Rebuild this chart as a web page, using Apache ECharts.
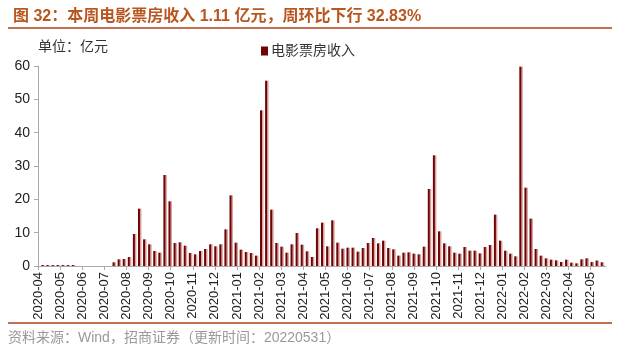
<!DOCTYPE html>
<html>
<head>
<meta charset="utf-8">
<script src="https://cdn.jsdelivr.net/npm/echarts@6/dist/echarts.min.js"></script>
<style>
  html, body { margin: 0; padding: 0; background: #fff; }
  #chart { width: 617px; height: 352px; }
</style>
</head>
<body>
<div id="chart"></div>
<script>
// month tick labels (x axis)
var monthLabels = [
  '2020-04', '2020-05', '2020-06', '2020-07', '2020-08', '2020-09', '2020-10',
  '2020-11', '2020-12', '2021-01', '2021-02', '2021-03', '2021-04', '2021-05',
  '2021-06', '2021-07', '2021-08', '2021-09', '2021-10', '2021-11', '2021-12',
  '2022-01', '2022-02', '2022-03', '2022-04', '2022-05'
];
var yTicks = [0, 10, 20, 30, 40, 50, 60];

// weekly box office, 亿元, first week starts 2020-04-07
var firstWeek = '2020-04-07';
var boxOffice = [
  0.3, 0.3, 0.3, 0.3, 0.3, 0.3, 0.3, 0, 0, 0,
  0, 0, 0, 0, 1.1, 2.0, 2.1, 2.7, 9.6, 17.2,
  8.0, 6.5, 4.5, 4.0, 27.3, 19.4, 6.9, 7.1, 6.1, 3.9,
  3.5, 4.5, 5.1, 6.5, 5.9, 6.5, 11.0, 21.2, 7.0, 4.9,
  4.2, 3.9, 3.1, 46.7, 55.6, 16.9, 6.9, 5.8, 4.0, 6.5,
  9.9, 6.4, 4.4, 2.7, 11.3, 13.0, 5.9, 13.7, 7.0, 5.2,
  5.5, 5.5, 4.3, 5.4, 6.9, 8.4, 6.8, 7.6, 5.4, 5.0,
  3.1, 4.0, 4.1, 3.7, 3.5, 5.8, 23.1, 33.2, 10.4, 6.8,
  5.9, 4.0, 3.7, 5.7, 4.6, 4.6, 3.8, 5.7, 6.3, 15.4,
  7.6, 4.6, 3.7, 2.9, 59.8, 23.5, 14.2, 5.1, 3.1, 2.3,
  1.9, 1.7, 1.2, 1.9, 1.0, 0.8, 2.0, 2.3, 1.2, 1.65,
  1.11
];

var DAY = 24 * 3600 * 1000;
var MONTH_DAYS = 30.4375;
var origin = Date.parse('2020-04-01');
var start = Date.parse(firstWeek);
var barData = boxOffice.map(function (v, i) {
  var days = (start - origin) / DAY + i * 7;
  return [days / MONTH_DAYS, v];
});
var monthTicks = monthLabels.map(function (l, i) { return i; });

var font = "'Liberation Sans', 'Noto Sans CJK SC', sans-serif";

var myChart = echarts.init(document.getElementById('chart'), null, { renderer: 'canvas' });
var option = {
  backgroundColor: '#fff',
  animation: false,
  title: {
    text: '图 32：本周电影票房收入 1.11 亿元，周环比下行 32.83%',
    left: 8,
    top: 4,
    textStyle: { fontSize: 16, fontWeight: 'bold', color: '#b9561f', fontFamily: font }
  },
  graphic: [
    { type: 'line', shape: { x1: 8, y1: 28, x2: 612, y2: 28 }, style: { stroke: '#c56f52', lineWidth: 2 } },
    { type: 'line', shape: { x1: 8, y1: 323, x2: 612, y2: 323 }, style: { stroke: '#c56f52', lineWidth: 2 } },
    { type: 'text', left: 38, top: 40, style: { text: '单位：亿元', fontSize: 14, fill: '#333', fontFamily: font } },
    { type: 'text', left: 8, top: 331, style: { text: '资料来源：Wind，招商证券（更新时间：20220531）', fontSize: 14, fill: '#999', fontFamily: font } }
  ],
  legend: {
    data: ['电影票房收入'],
    left: 256,
    top: 39,
    icon: 'rect',
    itemWidth: 7,
    itemHeight: 9,
    itemGap: 4,
    textStyle: { fontSize: 14, color: '#333', fontFamily: font, padding: [0, 0, 0, -2] }
  },
  grid: { left: 38, right: 11, top: 66, bottom: 86, containLabel: false },
  xAxis: {
    type: 'value',
    min: 0,
    max: 25.69,
    splitLine: { show: false },
    axisLine: { show: true, lineStyle: { color: '#aaa', width: 1 } },
    axisTick: { show: true, length: 4, lineStyle: { color: '#aaa' }, customValues: monthTicks },
    axisLabel: {
      rotate: 90,
      fontSize: 13,
      color: '#222',
      fontFamily: font,
      margin: 6,
      customValues: monthTicks,
      formatter: function (v) { return monthLabels[Math.round(v)] || ''; }
    }
  },
  yAxis: {
    type: 'value',
    min: yTicks[0],
    max: yTicks[yTicks.length - 1],
    interval: 10,
    splitLine: { show: false },
    axisLine: { show: true, lineStyle: { color: '#aaa' } },
    axisTick: { show: true, length: 4, lineStyle: { color: '#aaa' } },
    axisLabel: { fontSize: 14, color: '#222', fontFamily: font, margin: 8 }
  },
  series: [
    {
      name: '电影票房收入',
      type: 'bar',
      barWidth: 2,
      data: barData,
      itemStyle: {
        color: '#6e0505',
        shadowColor: 'rgba(214,150,150,0.9)',
        shadowOffsetX: 1.5,
        shadowBlur: 0
      }
    }
  ]
};
myChart.setOption(option);
window.addEventListener('resize', function () {
  myChart.resize();
});
</script>
</body>
</html>
